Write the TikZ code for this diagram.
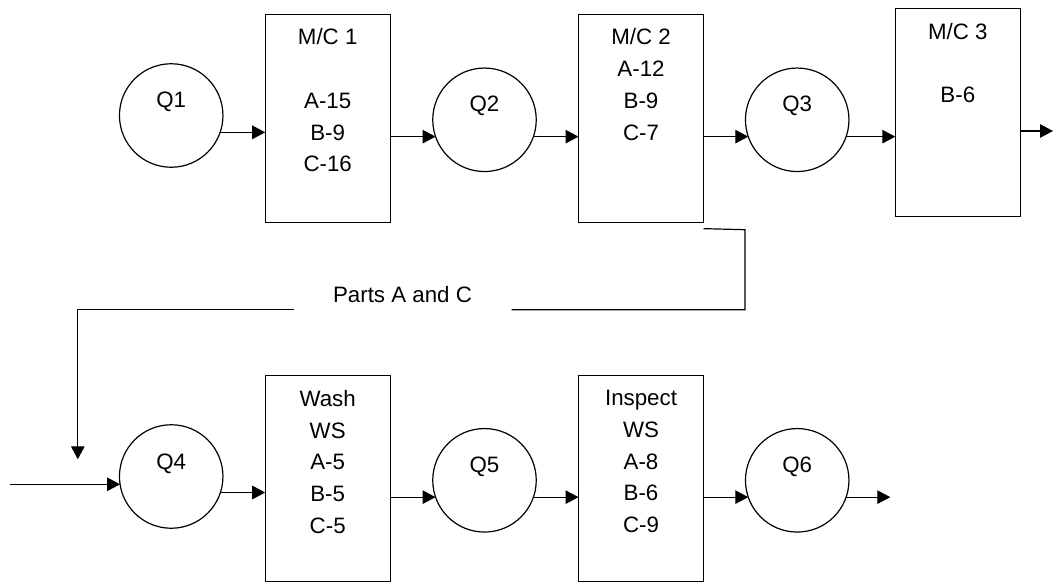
\documentclass[tikz,border=0pt]{standalone}
\usepackage{fontspec}
\setmainfont{Liberation Sans}
\usetikzlibrary{arrows.meta}
\begin{document}
\begin{tikzpicture}[x=1pt,y=-1pt,
  every node/.style={font=\fontsize{22.3}{31.75}\selectfont, inner sep=0pt, outer sep=0pt},
  queue/.style={draw, circle, line width=1.2pt, minimum size=103.5pt},
  station/.style={draw, rectangle, line width=1.2pt, minimum width=125pt},
  lbl/.style={text height=16pt, text depth=0pt, anchor=center},
  boxtext/.style={align=center, anchor=north},
  arr/.style={line width=1.2pt, -{Triangle[length=13pt,width=13.5pt]}},
  conn/.style={line width=1.2pt}]
\useasboundingbox (0,0) rectangle (1054,583);

% stations
\node[station, minimum height=207.7pt] (mc1) at (327.7,118.3) {};
\node[station, minimum height=207.7pt] (mc2) at (641,118.3) {};
\node[station, minimum height=207.7pt] (mc3) at (957.8,112.7) {};
\node[station, minimum height=206pt] (wash) at (327.7,478.5) {};
\node[station, minimum height=206pt] (insp) at (641,478.5) {};

\node[boxtext] (mc1t) at (327.7,28.7) {M/C 1\\[31.75pt]A-15\\B-9\\C-16};
\node[boxtext] (mc2t) at (641,28.7) {M/C 2\\A-12\\B-9\\C-7};
\node[boxtext] (mc3t) at (957.8,23) {M/C 3\\[31.75pt]B-6};
\node[boxtext] (washt) at (327.7,390.3) {Wash\\WS\\A-5\\B-5\\C-5};
\node[boxtext] (inspt) at (641,390.3) {Inspect\\WS\\A-8\\B-6\\C-9};

% queues
\node[queue] (q1) at (171.2,115.5) {};
\node[queue] (q2) at (484.5,119.8) {};
\node[queue] (q3) at (797.2,119.8) {};
\node[queue] (q4) at (171.2,476.5) {};
\node[queue] (q5) at (484.5,480.3) {};
\node[queue] (q6) at (797.2,480.3) {};

\node[lbl] (q1t) at ([yshift=16pt]q1.center) {Q1};
\node[lbl] (q2t) at ([yshift=16.3pt]q2.center) {Q2};
\node[lbl] (q3t) at ([yshift=16.3pt]q3.center) {Q3};
\node[lbl] (q4t) at ([yshift=15pt]q4.center) {Q4};
\node[lbl] (q5t) at ([yshift=16pt]q5.center) {Q5};
\node[lbl] (q6t) at ([yshift=16pt]q6.center) {Q6};

\node[lbl] (parts) at (402.5,294.7) {Parts A and C};

% top row connectors
\draw[arr] (q1.-19) -- (q1.-19 -| mc1.west);
\draw[arr] (q2.199 -| mc1.east) -- (q2.199);
\draw[arr] (q2.-19) -- (q2.-19 -| mc2.west);
\draw[arr] (q3.199 -| mc2.east) -- (q3.199);
\draw[arr] (q3.-19) -- (q3.-19 -| mc3.west);
\coordinate (out3) at (1053,131);
\draw[arr] (mc3.east |- out3) -- (out3);

% return path for parts A and C
\coordinate (b1) at ([yshift=-6.5pt]mc2.south east);
\coordinate (b2) at (745,229.7);
\coordinate (b3) at (745,309.7);
\coordinate (b4) at (511.7,309.7);
\coordinate (b5) at (294,309.7);
\coordinate (b6) at (77.8,309.7);
\coordinate (b7) at (77.8,459.3);
\draw[conn] (b1) -- (b2) -- (b3) -- (b4);
\draw[arr] (b5) -- (b6) -- (b7);

% bottom row connectors
\coordinate (in4) at (10.1,484.3);
\draw[arr] (in4) -- (in4 -| q4.189);
\draw[arr] (q4.-18) -- (q4.-18 -| wash.west);
\draw[arr] (q5.199 -| wash.east) -- (q5.199);
\draw[arr] (q5.-19) -- (q5.-19 -| insp.west);
\draw[arr] (q6.199 -| insp.east) -- (q6.199);
\coordinate (out6) at (890.3,497.3);
\draw[arr] (q6.-19) -- (q6.-19 -| out6);
\end{tikzpicture}
\end{document}
